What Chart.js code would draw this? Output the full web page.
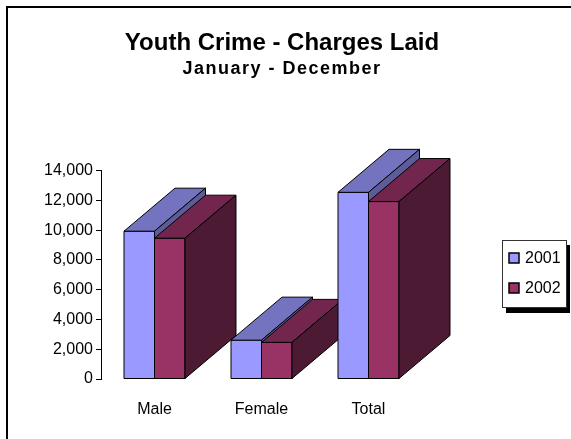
<!DOCTYPE html>
<html>
<head>
<meta charset="utf-8">
<script src="https://cdn.jsdelivr.net/npm/chart.js@4"></script>
<style>
  html, body { margin: 0; padding: 0; background: #fff; }
  #wrap { width: 571px; height: 439px; }
</style>
</head>
<body>
<div id="wrap"><canvas id="crimeChart" width="571" height="439"></canvas></div>
<script>
'use strict';

// data
const categories = ['Male', 'Female', 'Total'];
const seriesNames = ['2001', '2002'];
const values2001 = [9930, 2610, 12540];
const values2002 = [9460, 2460, 11920];
const tickMin = 0;
const tickMax = 14000;
const tickStep = 2000;

const titleText = 'Youth Crime - Charges Laid';
const subtitleText = 'January - December';

// face colours: front, top, side
const shades = [
  { front: '#9999FF', top: '#7373BF', side: '#5C5C99' },
  { front: '#993366', top: '#73264D', side: '#4D1A33' }
];
const DEPTH_X = 51;
const DEPTH_Y = 43;
const FONT = 'Arial, "Liberation Sans", sans-serif';

// draws the bars as 3d boxes, left to right so the nearer faces win
const boxes3d = {
  id: 'boxes3d',
  afterDatasetsDraw(chart) {
    const ctx = chart.ctx;
    ctx.save();
    ctx.lineWidth = 1;
    ctx.strokeStyle = '#000';
    ctx.lineJoin = 'miter';
    for (let i = 0; i < categories.length; i++) {
      chart.data.datasets.forEach((ds, d) => {
        const bar = chart.getDatasetMeta(d).data[i];
        const p = bar.getProps(['x', 'y', 'base', 'width'], true);
        const l = p.x - p.width / 2, r = p.x + p.width / 2;
        const t = p.y, b = p.base;
        const c = shades[d];
        const poly = (pts, fill) => {
          ctx.beginPath();
          ctx.moveTo(pts[0][0], pts[0][1]);
          for (let k = 1; k < pts.length; k++) ctx.lineTo(pts[k][0], pts[k][1]);
          ctx.closePath();
          ctx.fillStyle = fill;
          ctx.fill();
          ctx.stroke();
        };
        poly([[l, t], [r, t], [r, b], [l, b]], c.front);
        poly([[l, t], [l + DEPTH_X, t - DEPTH_Y], [r + DEPTH_X, t - DEPTH_Y], [r, t]], c.top);
        poly([[r, t], [r + DEPTH_X, t - DEPTH_Y], [r + DEPTH_X, b - DEPTH_Y], [r, b]], c.side);
      });
    }
    ctx.restore();
  }
};

// frame, legend, spaced subtitle
const decorations = {
  id: 'decorations',
  beforeDraw(chart) {
    const ctx = chart.ctx;
    ctx.save();
    ctx.fillStyle = '#000';
    ctx.fillRect(6, 6, chart.width, 2);
    ctx.fillRect(6, 6, 2, chart.height);
    ctx.restore();
    chart.boxes.forEach(box => {
      if (box.options && box.options.text === subtitleText && !box._spaced) {
        const orig = box.draw;
        box.draw = function (area) {
          this.ctx.save();
          this.ctx.letterSpacing = '1.5px';
          orig.call(this, area);
          this.ctx.restore();
        };
        box._spaced = true;
      }
    });
  },
  afterDraw(chart) {
    const ctx = chart.ctx;
    const lx = 502, ly = 240, lw = 64, lh = 67;
    ctx.save();
    ctx.fillStyle = '#000';
    ctx.fillRect(lx + 4, ly + 5, lw, lh + 1);
    ctx.fillStyle = '#fff';
    ctx.fillRect(lx, ly, lw, lh);
    ctx.strokeStyle = '#333';
    ctx.lineWidth = 1;
    ctx.strokeRect(lx + 0.5, ly + 0.5, lw, lh);
    ctx.font = '16px ' + FONT;
    ctx.textBaseline = 'middle';
    chart.data.datasets.forEach((ds, d) => {
      const cy = ly + 18 + d * 30;
      ctx.fillStyle = ds.backgroundColor;
      ctx.fillRect(lx + 7, cy - 5, 10, 10);
      ctx.strokeStyle = '#000';
      ctx.lineWidth = 1.5;
      ctx.strokeRect(lx + 7, cy - 5, 10, 10);
      ctx.fillStyle = '#000';
      ctx.fillText(ds.label, lx + 23, cy + 1);
    });
    ctx.restore();
  }
};

const ctx = document.getElementById('crimeChart').getContext('2d');
const myChart = new Chart(ctx, {
  type: 'bar',
  data: {
    labels: categories,
    datasets: [{
      label: seriesNames[0],
      data: values2001,
      backgroundColor: shades[0].front,
      borderColor: '#000',
      borderWidth: 1
    }, {
      label: seriesNames[1],
      data: values2002,
      backgroundColor: shades[1].front,
      borderColor: '#000',
      borderWidth: 1
    }]
  },
  options: {
    responsive: false,
    animation: false,
    layout: { padding: { left: 0, right: 7, top: 0, bottom: 0 } },
    datasets: {
      bar: { categoryPercentage: 0.57, barPercentage: 1 }
    },
    scales: {
      x: {
        grid: { display: false },
        border: { display: false },
        ticks: { color: '#000', font: { family: FONT, size: 16 }, padding: 13 },
        afterFit(scale) { scale.height = 60; }
      },
      y: {
        min: tickMin,
        max: tickMax,
        grid: { drawOnChartArea: false, drawTicks: true, tickLength: 5, color: '#000' },
        border: { display: true, color: '#000', width: 1 },
        ticks: {
          stepSize: tickStep,
          color: '#000',
          padding: 3,
          font: { family: FONT, size: 16 },
          callback: v => v.toLocaleString('en-US')
        },
        afterFit(scale) { scale.width = 101; }
      },
      yRight: {
        position: 'right',
        grid: { display: false },
        border: { display: false },
        ticks: { display: false },
        afterFit(scale) { scale.width = 142; }
      }
    },
    plugins: {
      legend: { display: false },
      tooltip: { enabled: false },
      title: {
        display: true,
        text: titleText,
        color: '#000',
        font: { family: FONT, size: 24, weight: 'bold' },
        padding: { top: 29, bottom: 0 }
      },
      subtitle: {
        display: true,
        text: subtitleText,
        color: '#000',
        font: { family: FONT, size: 18, weight: 'bold' },
        padding: { top: 0, bottom: 91.2 }
      }
    }
  },
  plugins: [boxes3d, decorations]
});
</script>
</body>
</html>
